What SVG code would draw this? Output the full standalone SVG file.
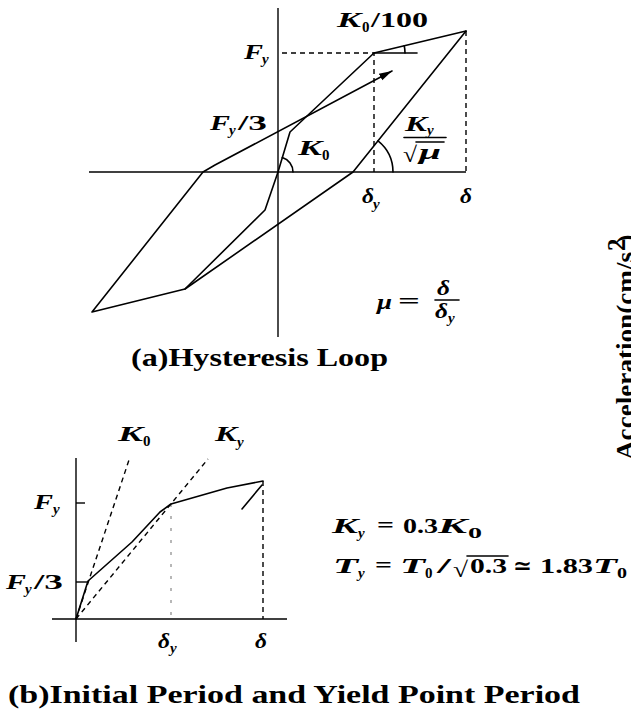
<svg xmlns="http://www.w3.org/2000/svg" width="631" height="709" viewBox="0 0 631 709">
<style>
.ln{fill:none;stroke:#000;stroke-width:1.6;stroke-linejoin:round;stroke-linecap:round}
.ax{fill:none;stroke:#000;stroke-width:1.4}
.ds{fill:none;stroke:#000;stroke-width:1.4;stroke-dasharray:5,4}
.dt{fill:none;stroke:#888;stroke-width:1.2;stroke-dasharray:3,9}
.mi{font-family:"Liberation Serif","DejaVu Serif",serif;font-weight:bold;font-style:italic;font-size:22px;fill:#000}
.mn{font-family:"Liberation Serif","DejaVu Serif",serif;font-weight:bold;font-size:22px;fill:#000}
.si{font-family:"Liberation Serif","DejaVu Serif",serif;font-weight:bold;font-style:italic;font-size:15px;fill:#000}
.sn{font-family:"Liberation Serif","DejaVu Serif",serif;font-weight:bold;font-size:15px;fill:#000}
.cap{font-family:"Liberation Serif","DejaVu Serif",serif;font-weight:bold;font-size:25px;fill:#000}
</style>
<defs>
<marker id="ah" markerUnits="userSpaceOnUse" markerWidth="14" markerHeight="10" refX="13" refY="5" orient="auto">
<path d="M0,1.3 L13,5 L0,8.7 Z" fill="#000"/>
</marker>
</defs>
<rect width="631" height="709" fill="#fff"/>

<g id="hysteresis-axes">
<line class="ax" x1="278" y1="8" x2="278" y2="337"/>
<line class="ax" x1="89" y1="172" x2="466" y2="172"/>
<polyline class="ds" points="282,53 374,53 374,172"/>
<line class="ds" x1="466" y1="31" x2="466" y2="172"/>
<line class="ln" x1="374" y1="53" x2="417" y2="53"/>
</g>

<g id="connectors">
<polyline class="ln" points="185,289 265,210 278,172 290,132 374,53 466,31"/>
<polyline class="ln" points="466,31 353,172 185,289 92,312 203,172 215,165 392,71" marker-end="url(#ah)"/>
<path class="ln" d="M405,53 A31,31 0 0 0 404.2,45.8"/>
<path class="ln" d="M293,172 A15,15 0 0 0 282.3,157.6"/>
<path class="ln" d="M393,172 A40,40 0 0 0 378,140.8"/>
<line class="ln" x1="404" y1="137.5" x2="446" y2="137.5"/>
<line class="ln" x1="416" y1="142" x2="444" y2="142"/>
<line class="ln" x1="435" y1="300" x2="459" y2="300"/>
</g>

<g id="hysteresis-labels">
<text class="mi" x="337" y="27" textLength="24" lengthAdjust="spacingAndGlyphs">K</text>
<text class="sn" x="362" y="32">0</text>
<text class="mn" x="371" y="27" textLength="57" lengthAdjust="spacingAndGlyphs">/100</text>
<text class="mi" x="244" y="59" textLength="19" lengthAdjust="spacingAndGlyphs">F</text>
<text class="si" x="262" y="64">y</text>
<text class="mi" x="210" y="130" textLength="20" lengthAdjust="spacingAndGlyphs">F</text>
<text class="si" x="229" y="135">y</text>
<text class="mn" x="238" y="130" textLength="29" lengthAdjust="spacingAndGlyphs">/3</text>
<text class="mi" x="298" y="155" textLength="24" lengthAdjust="spacingAndGlyphs">K</text>
<text class="sn" x="322" y="160">0</text>
<text class="mi" x="405" y="131" textLength="22" lengthAdjust="spacingAndGlyphs">K</text>
<text class="si" x="427" y="135">y</text>
<text class="mn" x="403" y="162" textLength="14" lengthAdjust="spacingAndGlyphs">√</text>
<text class="mi" x="419" y="159" textLength="22" lengthAdjust="spacingAndGlyphs">μ</text>
<text class="mi" x="362" y="203" textLength="12" lengthAdjust="spacingAndGlyphs">δ</text>
<text class="si" x="373" y="209">y</text>
<text class="mi" x="460" y="203" textLength="12" lengthAdjust="spacingAndGlyphs">δ</text>
<text class="mi" x="377" y="309" textLength="15" lengthAdjust="spacingAndGlyphs">μ</text>
<text class="mn" x="398" y="308" textLength="22" lengthAdjust="spacingAndGlyphs">=</text>
<text class="mi" x="437" y="295" textLength="13" lengthAdjust="spacingAndGlyphs">δ</text>
<text class="mi" x="435" y="318" textLength="13" lengthAdjust="spacingAndGlyphs">δ</text>
<text class="si" x="448" y="323">y</text>
<text class="cap" x="131" y="366" textLength="257" lengthAdjust="spacingAndGlyphs">(a)Hysteresis Loop</text>
</g>

<g id="period-axes">
<line class="ax" x1="76" y1="458" x2="76" y2="642"/>
<line class="ax" x1="52" y1="619" x2="287" y2="619"/>
<line class="ax" x1="76" y1="503" x2="85" y2="503"/>
<line class="ax" x1="76" y1="582" x2="87" y2="582"/>
<line class="ds" x1="263" y1="481" x2="263" y2="619"/>
<line class="dt" x1="171" y1="504" x2="171" y2="619"/>
<line class="ds" x1="76" y1="619" x2="129" y2="460"/>
<line class="ds" x1="76" y1="619" x2="208" y2="459"/>
</g>

<g id="period-curve">
<polyline class="ln" points="76,619 88,581 132,542 160,512 171,504 227,488 263,481"/>
<line class="ln" x1="242" y1="509" x2="262" y2="485"/>
</g>

<g id="period-labels">
<text class="mi" x="118" y="441" textLength="25" lengthAdjust="spacingAndGlyphs">K</text>
<text class="sn" x="143" y="446">0</text>
<text class="mi" x="215" y="441" textLength="22" lengthAdjust="spacingAndGlyphs">K</text>
<text class="si" x="237" y="447">y</text>
<text class="mi" x="34" y="509" textLength="19" lengthAdjust="spacingAndGlyphs">F</text>
<text class="si" x="53" y="514">y</text>
<text class="mi" x="6" y="589" textLength="20" lengthAdjust="spacingAndGlyphs">F</text>
<text class="si" x="25" y="594">y</text>
<text class="mn" x="34" y="589" textLength="29" lengthAdjust="spacingAndGlyphs">/3</text>
<text class="mi" x="158" y="648" textLength="12" lengthAdjust="spacingAndGlyphs">δ</text>
<text class="si" x="170" y="653">y</text>
<text class="mi" x="255" y="648" textLength="12" lengthAdjust="spacingAndGlyphs">δ</text>
</g>

<g id="equations">
<text class="mi" x="332" y="533" textLength="26" lengthAdjust="spacingAndGlyphs">K</text>
<text class="si" x="358" y="538">y</text>
<text class="mn" x="377" y="532" textLength="17" lengthAdjust="spacingAndGlyphs">=</text>
<text class="mn" x="403" y="533" textLength="35" lengthAdjust="spacingAndGlyphs">0.3</text>
<text class="mi" x="438" y="533" textLength="29" lengthAdjust="spacingAndGlyphs">K</text>
<text class="sn" x="468" y="538" textLength="14" lengthAdjust="spacingAndGlyphs">0</text>
<text class="mi" x="333" y="573" textLength="25" lengthAdjust="spacingAndGlyphs">T</text>
<text class="si" x="358" y="578">y</text>
<text class="mn" x="375" y="572" textLength="17" lengthAdjust="spacingAndGlyphs">=</text>
<text class="mi" x="400" y="573" textLength="25" lengthAdjust="spacingAndGlyphs">T</text>
<text class="sn" x="425" y="578">0</text>
<text class="mn" x="437" y="573" textLength="14" lengthAdjust="spacingAndGlyphs">/</text>
<text class="mn" x="453" y="577" font-size="25" textLength="15" lengthAdjust="spacingAndGlyphs">√</text>
<line class="ln" x1="467" y1="556" x2="508" y2="556"/>
<text class="mn" x="470" y="573" textLength="37" lengthAdjust="spacingAndGlyphs">0.3</text>
<text class="mn" x="513" y="573" textLength="19" lengthAdjust="spacingAndGlyphs">≃</text>
<text class="mn" x="540" y="573" textLength="53" lengthAdjust="spacingAndGlyphs">1.83</text>
<text class="mi" x="593" y="573" textLength="24" lengthAdjust="spacingAndGlyphs">T</text>
<text class="sn" x="617" y="578" textLength="10" lengthAdjust="spacingAndGlyphs">0</text>
<text class="cap" x="8" y="703" textLength="572" lengthAdjust="spacingAndGlyphs">(b)Initial Period and Yield Point Period</text>
</g>

<g id="side-label" transform="translate(634,460) rotate(-90)">
<text class="cap" x="0" y="0" textLength="208" lengthAdjust="spacingAndGlyphs">Acceleration(cm/s</text>
<text class="cap" x="209" y="-9" font-size="15">2</text>
<text class="cap" x="217" y="0">)</text>
</g>
</svg>
